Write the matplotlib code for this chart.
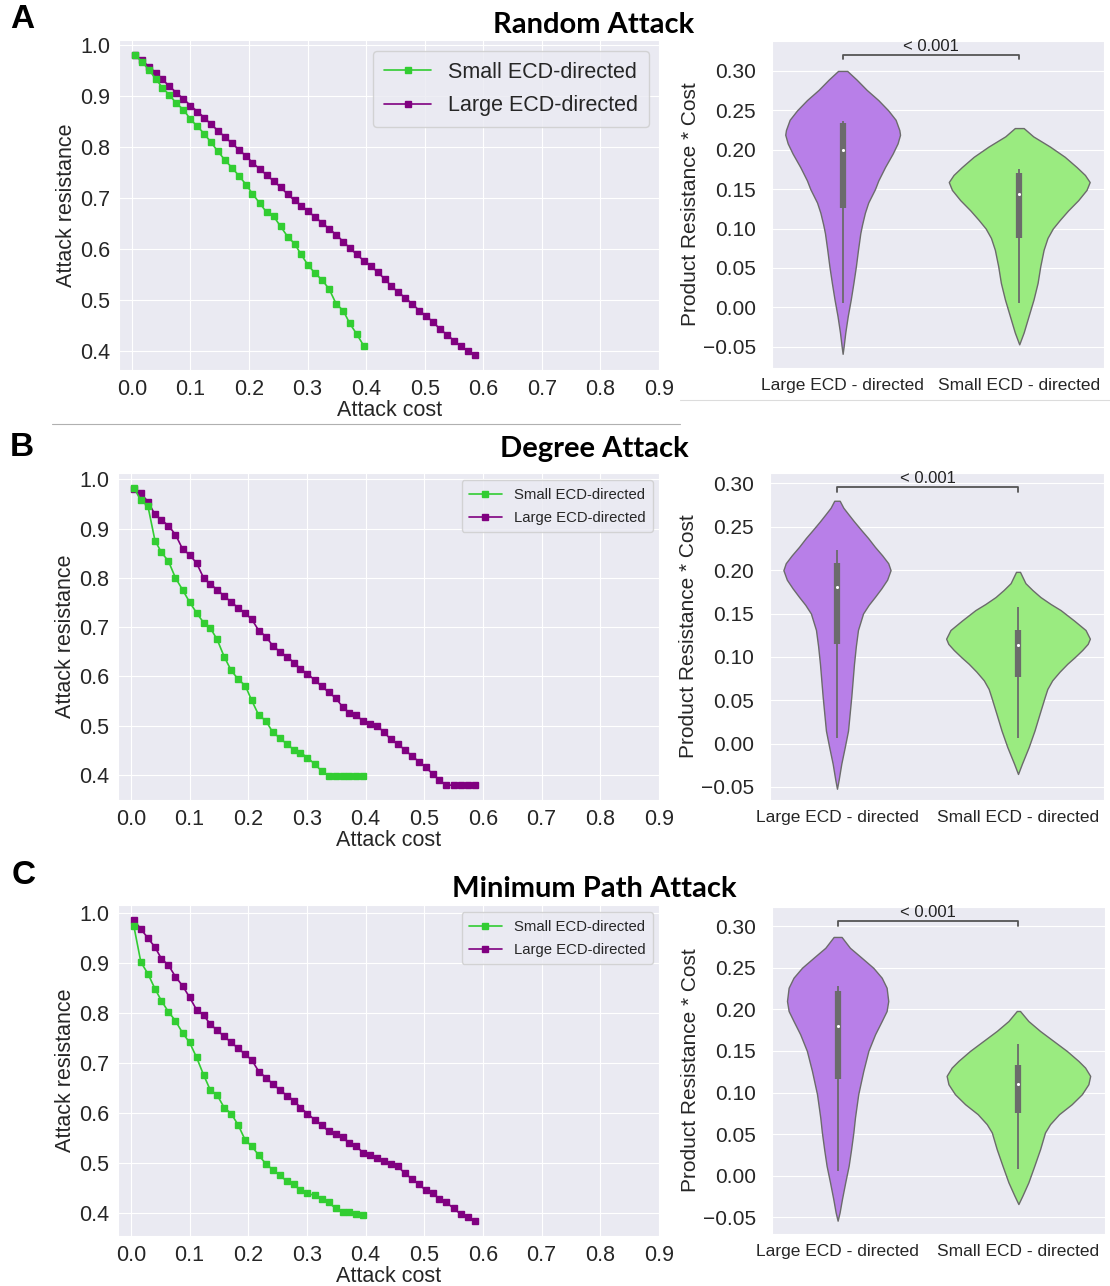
import numpy as np
import matplotlib
matplotlib.use("Agg")
import matplotlib.pyplot as plt
import seaborn as sns
from matplotlib.lines import Line2D
from matplotlib.ticker import MultipleLocator

sns.set_style("darkgrid")
plt.rcParams['font.family'] = ['Liberation Sans', 'DejaVu Sans']

# fraction of nodes removed (attack cost), shared by every curve
attack_cost = [0.005, 0.017, 0.029, 0.041, 0.052, 0.064, 0.076, 0.088, 0.100, 0.112,
               0.124, 0.135, 0.147, 0.159, 0.171, 0.183, 0.195, 0.206, 0.218, 0.230,
               0.242, 0.254, 0.266, 0.278, 0.289, 0.301, 0.313, 0.325, 0.337, 0.349,
               0.361, 0.372, 0.384, 0.396, 0.408, 0.420, 0.432, 0.443, 0.455, 0.467,
               0.479, 0.491, 0.503, 0.515, 0.526, 0.538, 0.550, 0.562, 0.574, 0.586]
cost_ticks = [0.0, 0.1, 0.2, 0.3, 0.4, 0.5, 0.6, 0.7, 0.8, 0.9]

# attack resistance curves
random_small = [0.980, 0.967, 0.951, 0.933, 0.916, 0.902, 0.885, 0.873, 0.854, 0.840,
                0.825, 0.809, 0.791, 0.774, 0.759, 0.743, 0.726, 0.708, 0.690, 0.672,
                0.664, 0.644, 0.624, 0.610, 0.589, 0.568, 0.552, 0.539, 0.521, 0.492,
                0.479, 0.454, 0.433, 0.410]
random_large = [0.980, 0.970, 0.957, 0.945, 0.932, 0.919, 0.906, 0.894, 0.881, 0.869,
                0.857, 0.844, 0.832, 0.819, 0.807, 0.794, 0.782, 0.769, 0.757, 0.745,
                0.733, 0.721, 0.707, 0.695, 0.685, 0.674, 0.662, 0.651, 0.639, 0.628,
                0.614, 0.602, 0.589, 0.577, 0.567, 0.554, 0.541, 0.527, 0.515, 0.504,
                0.492, 0.479, 0.468, 0.456, 0.443, 0.432, 0.420, 0.409, 0.400, 0.392]

degree_small = [0.983, 0.958, 0.946, 0.876, 0.852, 0.834, 0.800, 0.776, 0.751, 0.729,
                0.709, 0.699, 0.675, 0.640, 0.612, 0.594, 0.581, 0.551, 0.521, 0.510,
                0.486, 0.475, 0.462, 0.451, 0.445, 0.435, 0.422, 0.408, 0.398, 0.398,
                0.398, 0.398, 0.398, 0.398]
degree_large = [0.980, 0.972, 0.955, 0.929, 0.918, 0.906, 0.888, 0.859, 0.847, 0.830,
                0.800, 0.788, 0.776, 0.763, 0.751, 0.739, 0.728, 0.716, 0.693, 0.681,
                0.662, 0.650, 0.640, 0.628, 0.615, 0.605, 0.593, 0.580, 0.568, 0.556,
                0.538, 0.526, 0.521, 0.509, 0.504, 0.499, 0.486, 0.472, 0.462, 0.451,
                0.438, 0.427, 0.415, 0.401, 0.389, 0.379, 0.379, 0.379, 0.379, 0.379]

path_small = [0.973, 0.901, 0.878, 0.848, 0.824, 0.802, 0.784, 0.760, 0.741, 0.711,
              0.676, 0.647, 0.636, 0.611, 0.599, 0.576, 0.546, 0.534, 0.516, 0.499,
              0.487, 0.476, 0.464, 0.458, 0.446, 0.440, 0.436, 0.429, 0.422, 0.410,
              0.403, 0.403, 0.399, 0.397]
path_large = [0.985, 0.967, 0.949, 0.931, 0.908, 0.895, 0.872, 0.854, 0.831, 0.806,
              0.795, 0.778, 0.765, 0.753, 0.741, 0.729, 0.717, 0.706, 0.683, 0.671,
              0.658, 0.646, 0.635, 0.625, 0.611, 0.599, 0.587, 0.576, 0.564, 0.558,
              0.552, 0.540, 0.534, 0.521, 0.516, 0.510, 0.504, 0.499, 0.494, 0.480,
              0.469, 0.458, 0.446, 0.440, 0.429, 0.422, 0.410, 0.399, 0.392, 0.385]

# violin profiles of resistance * cost: value levels and half widths
random_large_levels = [0.300, 0.289, 0.276, 0.263, 0.250, 0.238, 0.225, 0.219, 0.208, 0.195,
                       0.178, 0.161, 0.150, 0.133, 0.120, 0.105, 0.094, 0.073, 0.052, 0.031,
                       0.010, -0.011, -0.032, -0.049, -0.059]
random_large_width = [0.026, 0.079, 0.136, 0.202, 0.258, 0.300, 0.321, 0.325, 0.311, 0.283,
                      0.240, 0.202, 0.183, 0.145, 0.126, 0.110, 0.100, 0.087, 0.075, 0.061,
                      0.046, 0.029, 0.015, 0.006, 0.0]
random_small_levels = [0.2275, 0.217, 0.204, 0.191, 0.178, 0.168, 0.159, 0.149, 0.136, 0.123,
                       0.111, 0.100, 0.088, 0.073, 0.052, 0.031, 0.010, -0.011, -0.032, -0.047]
random_small_width = [0.025, 0.079, 0.174, 0.258, 0.325, 0.372, 0.399, 0.381, 0.334, 0.277,
                      0.230, 0.190, 0.160, 0.138, 0.119, 0.104, 0.081, 0.053, 0.025, 0.0]

degree_large_levels = [0.280, 0.272, 0.265, 0.256, 0.246, 0.237, 0.227, 0.217, 0.208, 0.200,
                       0.189, 0.179, 0.169, 0.160, 0.150, 0.131, 0.112, 0.092, 0.054, 0.015,
                       -0.004, -0.023, -0.042, -0.052]
degree_large_width = [0.015, 0.035, 0.061, 0.095, 0.135, 0.172, 0.209, 0.250, 0.283, 0.296,
                      0.277, 0.245, 0.209, 0.175, 0.144, 0.116, 0.104, 0.094, 0.079, 0.061,
                      0.043, 0.024, 0.009, 0.0]
degree_small_levels = [0.198, 0.185, 0.177, 0.169, 0.161, 0.154, 0.142, 0.131, 0.121, 0.115,
                       0.108, 0.100, 0.092, 0.083, 0.073, 0.063, 0.054, 0.035, 0.015, -0.004,
                       -0.023, -0.035]
degree_small_width = [0.011, 0.041, 0.080, 0.124, 0.180, 0.235, 0.309, 0.373, 0.397, 0.385,
                      0.355, 0.315, 0.272, 0.230, 0.189, 0.162, 0.148, 0.120, 0.091, 0.059,
                      0.022, 0.0]

path_large_levels = [0.287, 0.274, 0.262, 0.250, 0.238, 0.226, 0.210, 0.198, 0.186, 0.170,
                     0.150, 0.126, 0.098, 0.070, 0.052, 0.031, 0.012, -0.008, -0.028, -0.044,
                     -0.054]
path_large_width = [0.022, 0.068, 0.133, 0.197, 0.244, 0.271, 0.280, 0.271, 0.244, 0.207,
                    0.170, 0.142, 0.114, 0.096, 0.087, 0.074, 0.061, 0.042, 0.024, 0.011, 0.0]
path_small_levels = [0.198, 0.186, 0.174, 0.162, 0.150, 0.138, 0.130, 0.120, 0.110, 0.098,
                     0.086, 0.074, 0.062, 0.052, 0.032, 0.012, -0.008, -0.024, -0.034]
path_small_width = [0.009, 0.055, 0.120, 0.194, 0.268, 0.332, 0.369, 0.397, 0.387, 0.351,
                    0.295, 0.225, 0.175, 0.147, 0.120, 0.088, 0.055, 0.022, 0.0]

# inner boxes: whisker low, q1, median, q3, whisker high
random_large_box = [0.006, 0.126, 0.200, 0.234, 0.236]
random_small_box = [0.006, 0.088, 0.144, 0.170, 0.176]
degree_large_box = [0.006, 0.115, 0.181, 0.208, 0.223]
degree_small_box = [0.006, 0.077, 0.114, 0.131, 0.158]
path_large_box = [0.006, 0.116, 0.180, 0.222, 0.228]
path_small_box = [0.008, 0.076, 0.110, 0.133, 0.158]

groups = ['Large ECD - directed', 'Small ECD - directed']
titles = ['Random Attack', 'Degree Attack', 'Minimum Path Attack']
p_text = '< 0.001'
bracket_y = [0.3205, 0.2955, 0.306]

GREEN = '#32cd32'
PURPLE = '#800080'
V_PURPLE = '#b87fe8'
V_GREEN = '#9aeb80'
EDGE = '#6b6b6b'

W, H = 1110, 1286
fig = plt.figure(figsize=(W / 100, H / 100), dpi=100)


def box(l, t, r, b):
    return [l / W, 1 - b / H, (r - l) / W, (b - t) / H]


line_boxes = [(119, 40, 660, 370), (118, 473, 660, 800), (118, 905, 660, 1236)]
violin_boxes = [(772, 41, 1104, 368), (770, 473, 1104, 800), (772, 907, 1105, 1234)]
violin_xlims = [(-0.40, 1.48), (-0.37, 1.475), (-0.363, 1.479)]
violin_ylims = [(-0.077, 0.338), (-0.065, 0.312), (-0.070, 0.323)]
legend_sizes = [15.5, 10.7, 10.7]

curves = [(random_small, random_large), (degree_small, degree_large), (path_small, path_large)]
violins = [
    ((random_large_levels, random_large_width, random_large_box),
     (random_small_levels, random_small_width, random_small_box)),
    ((degree_large_levels, degree_large_width, degree_large_box),
     (degree_small_levels, degree_small_width, degree_small_box)),
    ((path_large_levels, path_large_width, path_large_box),
     (path_small_levels, path_small_width, path_small_box)),
]

for row in range(3):
    small, large = curves[row]
    ax = fig.add_axes(box(*line_boxes[row]))
    hl, = ax.plot(attack_cost[:len(large)], large, color=PURPLE, marker='s',
                  markersize=4.3, linewidth=1.2, label='Large ECD-directed')
    hs, = ax.plot(attack_cost[:len(small)], small, color=GREEN, marker='s',
                  markersize=4.3, linewidth=1.2, label='Small ECD-directed')
    ax.set_xticks(cost_ticks)
    ax.set_xlim(-0.022, 0.902)
    ax.tick_params(labelsize=15.5, pad=3)
    ax.set_xlabel('Attack cost', fontsize=15.5, labelpad=0)
    ax.set_ylabel('Attack resistance', fontsize=15.5, labelpad=2)
    ax.legend(handles=[hs, hl], loc='upper right', fontsize=legend_sizes[row],
              handlelength=2.2, labelspacing=0.6, borderpad=0.5, frameon=True)

    vax = fig.add_axes(box(*violin_boxes[row]))
    stats = []
    widths = []
    for levels, half, _ in violins[row]:
        stats.append({'coords': np.array(levels), 'vals': np.array(half),
                      'mean': 0, 'median': 0, 'min': levels[-1], 'max': levels[0]})
        widths.append(2 * max(half))
    parts = vax.violin(stats, positions=[0, 1], widths=widths, showmeans=False,
                       showextrema=False, showmedians=False)
    for body, fc in zip(parts['bodies'], [V_PURPLE, V_GREEN]):
        body.set_facecolor(fc)
        body.set_edgecolor(EDGE)
        body.set_linewidth(1.0)
        body.set_alpha(1)
        body.set_zorder(2)
    for pos, (_, _, bx) in enumerate(violins[row]):
        vax.vlines(pos, bx[0], bx[4], color=EDGE, linewidth=1.3, zorder=3)
        vax.vlines(pos, bx[1], bx[3], color=EDGE, linewidth=4.5, zorder=3)
        vax.scatter([pos], [bx[2]], s=5, color='white', zorder=4, linewidths=0)

    yb = bracket_y[row]
    vax.plot([0, 0, 1, 1], [yb - 0.0055, yb, yb, yb - 0.0055], color='#555555',
             linewidth=1.3, zorder=3)
    vax.text(0.5, yb + 0.001, p_text, ha='center', va='bottom', fontsize=12,
             color='#222222')

    vax.set_xlim(*violin_xlims[row])
    vax.set_ylim(*violin_ylims[row])
    vax.yaxis.set_major_locator(MultipleLocator(0.05))
    vax.set_xticks([0, 1])
    vax.set_xticklabels(groups)
    vax.xaxis.grid(False)
    vax.tick_params(axis='y', labelsize=15, pad=8)
    vax.tick_params(axis='x', labelsize=12.5, pad=4)
    vax.set_ylabel('Product Resistance * Cost', fontsize=15, labelpad=2)

# row titles and panel letters
title_y = [25, 449, 889]
letter_pos = [(22, 20), (22, 447), (24, 876)]
for t, ty, (lx, ly), letter in zip(titles, title_y, letter_pos, 'ABC'):
    fig.text(594 / W, 1 - ty / H, t, ha='center', va='center', fontsize=21,
             fontweight='bold', family=['Lato', 'DejaVu Sans'], color='black')
    fig.text(lx / W, 1 - ly / H, letter, ha='center', va='center', fontsize=24,
             fontweight='bold', color='black')

# thin separators between the first and second rows
fig.add_artist(Line2D([52 / W, 680 / W], [1 - 424 / H] * 2, color='#b0b0b0', linewidth=0.8))
fig.add_artist(Line2D([680 / W, 1.0], [1 - 400 / H] * 2, color='#dcdcdc', linewidth=0.8))

fig.savefig('out.png', dpi=100, facecolor='white')
